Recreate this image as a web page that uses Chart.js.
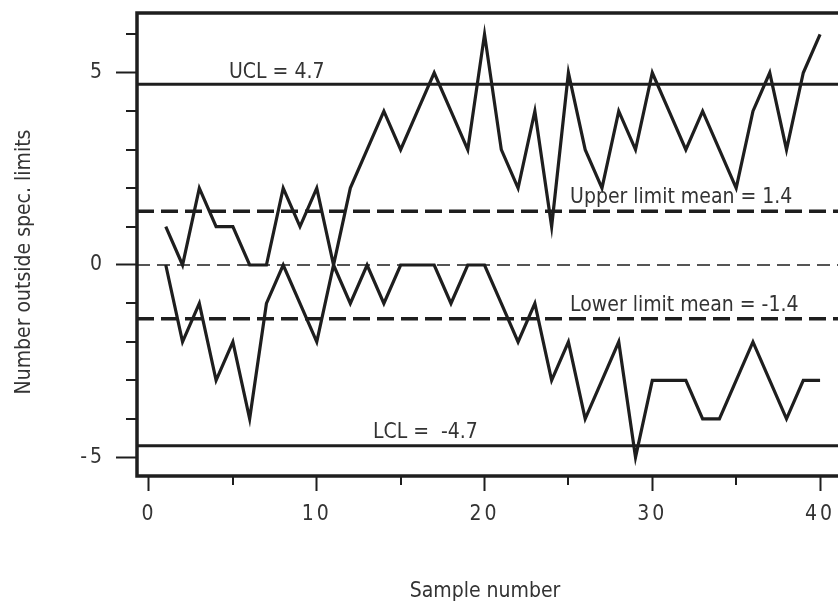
<!DOCTYPE html>
<html>
<head>
<meta charset="utf-8">
<script src="https://cdn.jsdelivr.net/npm/chart.js@4"></script>
<style>
  html, body { margin: 0; padding: 0; background: #fff; overflow: hidden; }
  #wrap { width: 880px; height: 601px; }
</style>
</head>
<body>
<div id="wrap"><canvas id="chart" width="880" height="601"></canvas></div>
<script>
// sample numbers 1..40
const samples = [1,2,3,4,5,6,7,8,9,10,11,12,13,14,15,16,17,18,19,20,
                 21,22,23,24,25,26,27,28,29,30,31,32,33,34,35,36,37,38,39,40];
const upperCounts = [1,0,2,1,1,0,0,2,1,2,0,2,3,4,3,4,5,4,3,6,
                     3,2,4,1,5,3,2,4,3,5,4,3,4,3,2,4,5,3,5,6];
const lowerCounts = [0,-2,-1,-3,-2,-4,-1,0,-1,-2,0,-1,0,-1,0,0,0,-1,0,0,
                     -1,-2,-1,-3,-2,-4,-3,-2,-5,-3,-3,-3,-4,-4,-3,-2,-3,-4,-3,-3];

const UCL = 4.7;
const LCL = -4.7;
const upperMean = 1.4;
const lowerMean = -1.4;

const xMajorTicks = [0, 10, 20, 30, 40];
const xMinorTicks = [5, 15, 25, 35];
const yMajorTicks = [-5, 0, 5];
const yMinorTicks = [-4, -3, -2, -1, 1, 2, 3, 4, 6];
const yTickText = { '-5': '-5', '0': '0', '5': '5' };

const X_MIN = -0.715, X_MAX = 42.44;
const Y_MIN = -5.488, Y_MAX = 6.554;

// label text + anchor in data coordinates (left edge, baseline)
const lineLabels = [
  { text: 'UCL = 4.7', x: 4.77, y: 4.86 },
  { text: 'Upper limit mean = 1.4', x: 25.1, y: 1.61 },
  { text: 'Lower limit mean = -1.4', x: 25.1, y: -1.2 },
  { text: 'LCL =  -4.7', x: 13.35, y: -4.5 }
];

const FONT = '"DejaVu Sans Condensed", "DejaVu Sans", sans-serif';
const INK = '#1e1e1e';
const TEXT = '#333';

const hline = (y, width, dash) => ({
  data: [{ x: X_MIN, y: y }, { x: X_MAX, y: y }],
  borderColor: INK,
  borderWidth: width,
  borderDash: dash,
  pointRadius: 0
});

const decorations = {
  id: 'decorations',
  // tick labels in the original are spaced out a little
  beforeDraw(chart) { chart.ctx.letterSpacing = '3px'; },
  beforeDatasetsDraw(chart) { chart.ctx.letterSpacing = '0px'; },
  afterDraw(chart) {
    const { ctx, chartArea: a } = chart;
    const xs = chart.scales.x, ys = chart.scales.y;
    ctx.save();
    ctx.letterSpacing = '0px';
    ctx.strokeStyle = INK;
    // minor ticks
    ctx.lineWidth = 2;
    ctx.beginPath();
    yMinorTicks.forEach(v => {
      const py = Math.round(ys.getPixelForValue(v));
      ctx.moveTo(a.left - 11, py); ctx.lineTo(a.left, py);
    });
    xMinorTicks.forEach(v => {
      const px = Math.round(xs.getPixelForValue(v));
      ctx.moveTo(px, a.bottom); ctx.lineTo(px, a.bottom + 9);
    });
    ctx.stroke();
    // frame
    ctx.lineWidth = 3.5;
    ctx.strokeRect(a.left, a.top, a.right - a.left, a.bottom - a.top);

    ctx.fillStyle = TEXT;
    ctx.font = '21px ' + FONT;
    ctx.textAlign = 'left';
    ctx.textBaseline = 'alphabetic';
    lineLabels.forEach(l => {
      ctx.fillText(l.text, xs.getPixelForValue(l.x), ys.getPixelForValue(l.y));
    });
    // axis titles
    ctx.textAlign = 'center';
    ctx.fillText('Sample number', 485, 597);
    ctx.translate(30, 262);
    ctx.rotate(-Math.PI / 2);
    ctx.fillText('Number outside spec. limits', 0, 0);
    ctx.restore();
  }
};

new Chart(document.getElementById('chart'), {
  type: 'line',
  data: {
    datasets: [
      { data: samples.map((s, i) => ({ x: s, y: upperCounts[i] })),
        borderColor: INK, borderWidth: 3.2, pointRadius: 0, tension: 0 },
      { data: samples.map((s, i) => ({ x: s, y: lowerCounts[i] })),
        borderColor: INK, borderWidth: 3.2, pointRadius: 0, tension: 0 },
      hline(UCL, 3, []),
      hline(LCL, 3, []),
      hline(upperMean, 3.5, [17, 7]),
      hline(lowerMean, 3.5, [17, 7]),
      hline(0, 1.5, [13, 7])
    ]
  },
  options: {
    responsive: false,
    devicePixelRatio: 1,
    animation: false,
    layout: { padding: { left: 0, top: 13, right: 19, bottom: 0 } },
    plugins: { legend: { display: false }, tooltip: { enabled: false } },
    scales: {
      x: {
        type: 'linear',
        min: X_MIN,
        max: X_MAX,
        afterBuildTicks: s => { s.ticks = xMajorTicks.map(v => ({ value: v })); },
        afterFit: s => { s.height = 125; s.paddingLeft = 0; s.paddingRight = 0; },
        border: { display: false },
        grid: { drawOnChartArea: false, tickLength: 15, tickWidth: 2, tickColor: INK },
        ticks: {
          padding: 11,
          color: TEXT,
          font: { family: FONT, size: 21 },
          maxRotation: 0,
          autoSkip: false,
          callback: v => String(v)
        }
      },
      y: {
        min: Y_MIN,
        max: Y_MAX,
        afterBuildTicks: s => { s.ticks = yMajorTicks.map(v => ({ value: v })); },
        afterFit: s => { s.width = 137; s.paddingTop = 0; s.paddingBottom = 0; },
        border: { display: false },
        grid: { drawOnChartArea: false, tickLength: 21, tickWidth: 2, tickColor: INK },
        ticks: {
          padding: 11,
          color: TEXT,
          font: { family: FONT, size: 21 },
          callback: v => yTickText[String(v)]
        }
      }
    }
  },
  plugins: [decorations]
});
</script>
</body>
</html>
